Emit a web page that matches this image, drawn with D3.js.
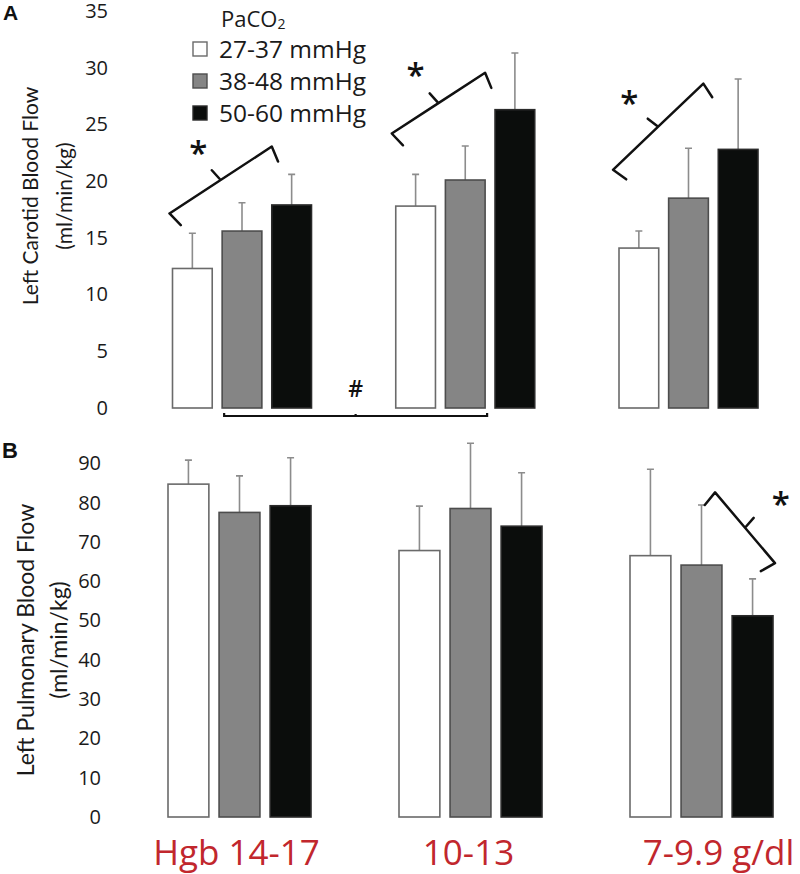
<!DOCTYPE html>
<html><head><meta charset="utf-8">
<script src="https://cdn.jsdelivr.net/npm/d3@7/dist/d3.min.js"></script>
<style>body{margin:0;background:#fff}svg{display:block}</style>
</head><body><svg id="c" width="800" height="874"></svg>
<script>
// ---------- data ----------
const groups = ["Hgb 14-17", "10-13", "7-9.9 g/dl"];
const series = ["27-37 mmHg", "38-48 mmHg", "50-60 mmHg"];
// Panel A: Left carotid blood flow (ml/min/kg) – rows = groups, cols = series
const carotidMean = [[12.3, 15.6, 17.9], [17.8, 20.1, 26.3], [14.1, 18.5, 22.8]];
const carotidSD   = [[3.1, 2.5, 2.7], [2.8, 3.0, 5.0], [1.5, 4.4, 6.2]];
// Panel B: Left pulmonary blood flow (ml/min/kg)
const pulmMean = [[84.7, 77.5, 79.2], [67.8, 78.5, 74.0], [66.5, 64.1, 51.2]];
const pulmSD   = [[6.1, 9.3, 12.2], [11.3, 16.6, 13.6], [22.0, 15.3, 9.4]];
const carotidTicks = [0, 5, 10, 15, 20, 25, 30, 35];
const pulmTicks = [0, 10, 20, 30, 40, 50, 60, 70, 80, 90];

// ---------- styles ----------
const fills = ["#ffffff", "#858585", "#0b0d0c"];
const strokes = ["#6a6a6a", "#4d4d4d", "#2a2a2a"];
const svg = d3.select("#c");
const SANS = "'Open Sans', sans-serif";

function panel(cfg) {
  const x0 = d3.scalePoint().domain(groups).range(cfg.xRange);
  const x1 = d3.scaleBand().domain(series).range([-cfg.half, cfg.half]).paddingInner(0.2);
  const y = d3.scaleLinear().domain(cfg.domain).range(cfg.yRange);
  const g = svg.append("g");

  const ax = g.append("g").attr("transform", `translate(${cfg.axisX},0)`)
    .call(d3.axisLeft(y).tickValues(cfg.ticks).tickSize(0).tickPadding(0));
  ax.select(".domain").remove();
  ax.selectAll("text").attr("font-family", SANS).attr("font-size", 20).attr("fill", "#1a1a1a");

  const rows = [];
  groups.forEach((gr, gi) => series.forEach((s, si) => rows.push({
    g: gr, s, si, v: cfg.mean[gi][si], e: cfg.sd[gi][si]
  })));

  // error bars (upper only)
  const eb = g.append("g").attr("stroke", "#8c8c8c").attr("stroke-width", 1.6).attr("fill", "none");
  eb.selectAll("path").data(rows).join("path")
    .attr("d", d => {
      const cx = x0(d.g) + x1(d.s) + x1.bandwidth() / 2;
      const yt = y(d.v + d.e), yb = y(d.v);
      return `M${cx},${yb}V${yt}M${cx - 3.5},${yt}H${cx + 3.5}`;
    });

  g.append("g").selectAll("rect").data(rows).join("rect")
    .attr("x", d => x0(d.g) + x1(d.s))
    .attr("y", d => y(d.v))
    .attr("width", x1.bandwidth())
    .attr("height", d => y(0) - y(d.v))
    .attr("fill", d => fills[d.si])
    .attr("stroke", d => strokes[d.si])
    .attr("stroke-width", 1.6);

  return { x0, x1, y, g };
}

const A = panel({
  xRange: [242, 688.5], half: 69.5, domain: [0, 35], yRange: [408, 11],
  axisX: 108, ticks: carotidTicks, mean: carotidMean, sd: carotidSD
});
const B = panel({
  xRange: [239.5, 701.5], half: 71.5, domain: [0, 90], yRange: [817, 463.3],
  axisX: 101, ticks: pulmTicks, mean: pulmMean, sd: pulmSD
});

// ---------- brace annotations ----------
function brace(p, q, starDist) {
  const dx = q[0] - p[0], dy = q[1] - p[1], L = Math.hypot(dx, dy);
  const d = [dx / L, dy / L], n = [-d[1], d[0]];
  const hook = 16, tip = 13;
  const m = [(p[0] + q[0]) / 2, (p[1] + q[1]) / 2];
  const path = d3.path();
  path.moveTo(p[0] + n[0] * hook + d[0] * 3, p[1] + n[1] * hook + d[1] * 3);
  path.lineTo(p[0], p[1]);
  path.lineTo(m[0], m[1]);
  path.lineTo(m[0] - n[0] * tip - d[0] * 2, m[1] - n[1] * tip - d[1] * 2);
  path.moveTo(m[0], m[1]);
  path.lineTo(q[0], q[1]);
  path.lineTo(q[0] + n[0] * hook - d[0] * 3, q[1] + n[1] * hook - d[1] * 3);
  svg.append("path").attr("d", path.toString()).attr("fill", "none")
    .attr("stroke", "#111").attr("stroke-width", 2.5)
    .attr("stroke-linejoin", "round").attr("stroke-linecap", "round");
  const sx = m[0] - n[0] * starDist, sy = m[1] - n[1] * starDist;
  svg.append("text").attr("x", sx).attr("y", sy + 19).attr("text-anchor", "middle")
    .attr("font-family", SANS).attr("font-size", 33).attr("font-weight", 600).attr("fill", "#111").text("*");
}
const bw = A.x1.bandwidth();
const ax = (gi, si) => A.x0(groups[gi]) + A.x1(series[si]);
brace([ax(0, 0) - 3, A.y(17.15)], [ax(0, 2), A.y(23.05)], 41);
brace([ax(1, 0) - 4, A.y(24.2)], [ax(1, 1) + bw, A.y(29.55)], 42);
brace([ax(2, 0) - 6, A.y(21.0)], [ax(2, 1) + bw - 5, A.y(28.6)], 42);
const bx = (gi, si) => B.x0(groups[gi]) + B.x1(series[si]);
brace([bx(2, 1) + 34, B.y(82.6)], [bx(2, 2) + B.x1.bandwidth() + 2, B.y(64.6)], 47);

// "#" comparison line under panel A
{
  const x1 = ax(0, 1) + 2, x2 = ax(1, 1) + bw + 2, yy = A.y(0) + 8, cx = (x1 + x2) / 2;
  svg.append("path").attr("d", `M${x1},${yy - 3}V${yy}H${x2}V${yy - 3}M${cx},${yy}v-2`)
    .attr("fill", "none").attr("stroke", "#111").attr("stroke-width", 2.2);
  svg.append("text").attr("x", cx).attr("y", 397).attr("text-anchor", "middle")
    .attr("font-family", SANS).attr("font-size", 23).attr("font-weight", 600).attr("fill", "#111").text("#");
}

// ---------- panel letters ----------
svg.append("text").attr("x", 3).attr("y", 20).attr("font-family", "Arial, 'Liberation Sans', sans-serif")
  .attr("font-weight", "bold").attr("font-size", 21).attr("fill", "#111").text("A");
svg.append("text").attr("x", 2).attr("y", 458).attr("font-family", "Arial, 'Liberation Sans', sans-serif")
  .attr("font-weight", "bold").attr("font-size", 22).attr("fill", "#111").text("B");

// ---------- y axis titles ----------
function ytitle(lines, cy, fs, xs) {
  lines.forEach((t, i) => svg.append("text")
    .attr("transform", `translate(${xs[i]},${cy}) rotate(-90)`)
    .attr("text-anchor", "middle").attr("font-family", "Lato, sans-serif")
    .attr("font-size", fs).attr("fill", "#1a1a1a").text(t));
}
ytitle(["Left Carotid Blood Flow", "(ml/min/kg)"], 196, 21, [38, 72]);
ytitle(["Left Pulmonary Blood Flow", "(ml/min/kg)"], 640, 23, [34, 67]);

// ---------- legend ----------
{
  const lg = svg.append("g");
  const t = lg.append("text").attr("x", 221).attr("y", 27).attr("font-family", SANS)
    .attr("font-size", 22).attr("fill", "#1a1a1a");
  t.append("tspan").text("PaCO");
  t.append("tspan").attr("font-size", 14).attr("dy", 2).text("2");
  series.forEach((s, i) => {
    const cy = 49 + i * 32;
    lg.append("rect").attr("x", 193).attr("y", cy - 7).attr("width", 14).attr("height", 14)
      .attr("fill", fills[i]).attr("stroke", strokes[i]).attr("stroke-width", 1.4);
    lg.append("text").attr("x", 219).attr("y", cy + 9).attr("font-family", SANS)
      .attr("font-size", 24.5).attr("fill", "#1a1a1a").text(s);
  });
}

// ---------- hemoglobin group labels ----------
svg.append("g").selectAll("text").data(groups).join("text")
  .attr("x", d => B.x0(d)).attr("dx", (d, i) => [-3, -2, 17][i])
  .attr("y", 865).attr("text-anchor", "middle")
  .attr("font-family", SANS).attr("font-size", 35).attr("fill", "#c1272d").text(d => d);
</script>
</body></html>
